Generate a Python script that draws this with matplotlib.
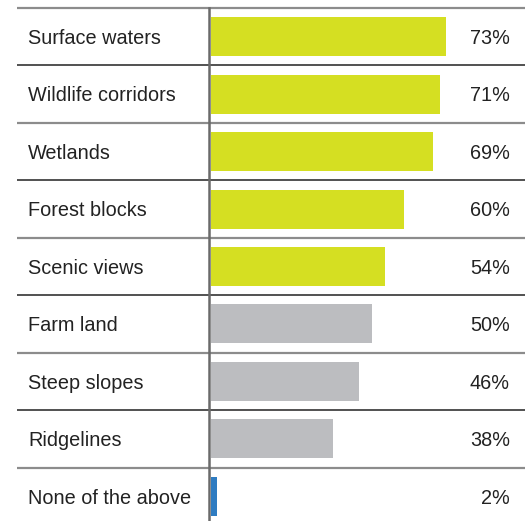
import matplotlib
matplotlib.use("Agg")
import matplotlib.pyplot as plt

categories = ["Surface waters", "Wildlife corridors", "Wetlands", "Forest blocks",
              "Scenic views", "Farm land", "Steep slopes", "Ridgelines", "None of the above"]
values = [73, 71, 69, 60, 54, 50, 46, 38, 2]
groups = ["top", "top", "top", "top", "top", "mid", "mid", "mid", "none"]
group_colors = {"top": "#d5df22", "mid": "#bcbdc0", "none": "#2f7cc1"}

W, H = 528, 521
fig = plt.figure(figsize=(W / 100, H / 100), dpi=100)
ax = fig.add_axes([0, 0, 1, 1])

# layout in pixels
x0_px = 211
px_per_unit = 235 / 73
top_px = 8
row_px = 57.45

def xd(px):
    return (px - x0_px) / px_per_unit

ax.set_xlim(xd(0), xd(W))
ax.set_ylim((H - top_px) / row_px, -top_px / row_px)
ax.axis("off")

font, size = "Liberation Sans", 14.3

n = len(categories)
ax.barh([y + 0.5 for y in range(n)], values, height=39 / row_px, left=0,
        color=[group_colors[g] for g in groups], zorder=2)

base = (44 - top_px) / row_px
for i, (cat, v) in enumerate(zip(categories, values)):
    ax.text(xd(28), i + base, cat, ha="left", va="baseline", fontsize=size,
            family=font, color="#222222")
    ax.text(xd(510), i + base, f"{v}%", ha="right", va="baseline", fontsize=size,
            family=font, color="#222222")

# row separators, alternating grey and dark
for i in range(n):
    c = "#8c8c8c" if i % 2 == 0 else "#333333"
    lw = 1.6 if i % 2 == 0 else 1.2
    ax.plot([xd(17), xd(525)], [i, i], color=c, lw=lw, zorder=3,
            solid_capstyle="butt")

# vertical divider between labels and bars
ax.plot([xd(209), xd(209)], [0, n + 1], color="#6a6a6a", lw=1.8, zorder=3)

fig.savefig("out.png", dpi=100)
